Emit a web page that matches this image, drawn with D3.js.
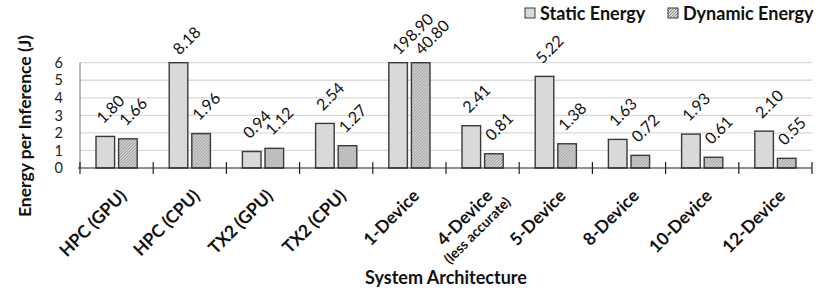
<!DOCTYPE html>
<html>
<head>
<meta charset="utf-8">
<script src="https://cdn.jsdelivr.net/npm/d3@7"></script>
<style>
  body { margin: 0; background: #fff; }
  svg { font-family: Lato, "Open Sans", sans-serif; }
</style>
</head>
<body>
<svg width="830" height="292"></svg>
<script>
var categories = ["HPC (GPU)", "HPC (CPU)", "TX2 (GPU)", "TX2 (CPU)", "1-Device",
                  "4-Device|(less accurate)", "5-Device", "8-Device", "10-Device", "12-Device"];
var staticEnergy  = [1.80, 8.18, 0.94, 2.54, 198.90, 2.41, 5.22, 1.63, 1.93, 2.10];
var dynamicEnergy = [1.66, 1.96, 1.12, 1.27, 40.80, 0.81, 1.38, 0.72, 0.61, 0.55];
var seriesNames = ["Static Energy", "Dynamic Energy"];
var yTicks = [0, 1, 2, 3, 4, 5, 6];

var svg = d3.select("svg"),
    margin = {top: 62.7, right: 18, bottom: 124, left: 80},
    width = +svg.attr("width") - margin.left - margin.right,
    height = +svg.attr("height") - margin.top - margin.bottom,
    g = svg.append("g").attr("transform", "translate(" + margin.left + "," + margin.top + ")");

// hatch for dynamic bars
var defs = svg.append("defs");
var pat = defs.append("pattern")
    .attr("id", "hatch")
    .attr("patternUnits", "userSpaceOnUse")
    .attr("width", 3).attr("height", 3);
pat.append("rect").attr("width", 3).attr("height", 3).attr("fill", "#d6d6d6");
pat.append("path").attr("d", "M-1,1 l2,-2 M0,3 l3,-3 M2,4 l2,-2")
    .attr("stroke", "#868686").attr("stroke-width", 0.9);

var y = d3.scaleLinear().domain([0, 6]).range([height, 0]).clamp(true);

var x0 = d3.scaleBand().domain(categories).range([0, width]);
var x1 = d3.scaleBand().domain(seriesNames)
    .range([0, x0.bandwidth()])
    .paddingInner(0.177).paddingOuter(0.708);

var fills = {"Static Energy": "#d9d9d9", "Dynamic Energy": "url(#hatch)"};

// gridlines
g.selectAll(".grid").data(yTicks.slice(1)).enter().append("line")
    .attr("x1", 0).attr("x2", width)
    .attr("y1", d => y(d)).attr("y2", d => y(d))
    .attr("stroke", "#d9d9d9").attr("stroke-width", 1.3);

// y axis line + labels
g.append("line").attr("x1", 0).attr("x2", 0).attr("y1", 0).attr("y2", height)
    .attr("stroke", "#8c8c8c").attr("stroke-width", 1.2);
g.selectAll(".ytl").data(yTicks).enter().append("text")
    .attr("x", -17).attr("y", d => y(d)).attr("dy", "0.36em")
    .attr("text-anchor", "end").attr("font-size", 14.5).attr("fill", "#222")
    .text(d => d);

var rows = categories.map((c, i) => ({cat: c, vals: [
    {key: seriesNames[0], value: staticEnergy[i]},
    {key: seriesNames[1], value: dynamicEnergy[i]}]}));

var grp = g.selectAll(".cat").data(rows).enter().append("g")
    .attr("transform", d => "translate(" + x0(d.cat) + ",0)");

grp.selectAll("rect").data(d => d.vals).enter().append("rect")
    .attr("x", d => x1(d.key))
    .attr("y", d => y(d.value))
    .attr("width", x1.bandwidth())
    .attr("height", d => height - y(d.value))
    .attr("fill", d => fills[d.key])
    .attr("stroke", "#3a3a3a").attr("stroke-width", 1.4);

// value labels, rotated
grp.selectAll(".val").data(d => d.vals).enter().append("text")
    .attr("font-size", 16).attr("fill", "#111")
    .attr("transform", function(d) {
      var cx = x1(d.key) + x1.bandwidth() / 2;
      var clipped = d.value > 6;
      var px = clipped ? cx + 1 : cx - 2;
      var py = clipped ? y(d.value) - 7 : y(d.value) - 12;
      return "translate(" + px + "," + py + ") rotate(-45)";
    })
    .text(d => d.value.toFixed(2));

// x axis with crossing ticks
g.append("line").attr("x1", -2).attr("x2", width).attr("y1", height).attr("y2", height)
    .attr("stroke", "#222").attr("stroke-width", 1.2);
var bounds = categories.map(c => x0(c)).concat([width]);
g.selectAll(".xt").data(bounds).enter().append("line")
    .attr("x1", d => d).attr("x2", d => d)
    .attr("y1", height - 6).attr("y2", height + 6)
    .attr("stroke", "#222").attr("stroke-width", 1.2);

// category labels
var cl = g.selectAll(".cl").data(categories).enter().append("text")
    .attr("font-weight", "bold").attr("font-size", 17.5).attr("fill", "#111")
    .attr("transform", d => "translate(" + (x0(d) + x0.bandwidth() / 2 + 11) + "," + (height + 29) + ") rotate(-45)");
cl.each(function(d) {
  var t = d3.select(this), parts = d.split("|");
  var first = t.append("tspan").attr("x", 0).attr("y", 0).attr("text-anchor", "end").text(parts[0]);
  if (parts.length > 1) {
    var L = first.node().getComputedTextLength();
    t.append("tspan").attr("x", -L / 2).attr("y", 17).attr("text-anchor", "middle")
      .attr("font-size", 14).text(parts[1]);
  }
});

// axis titles
svg.append("text")
    .attr("x", margin.left + width / 2).attr("y", 284)
    .attr("text-anchor", "middle").attr("font-weight", "bold").attr("font-size", 18)
    .attr("fill", "#111").text("System Architecture");
svg.append("text")
    .attr("transform", "translate(31,126) rotate(-90)")
    .attr("text-anchor", "middle").attr("font-weight", "bold").attr("font-size", 17.5)
    .attr("fill", "#111").text("Energy per Inference (J)");

// legend
var legend = svg.append("g").selectAll("g").data(seriesNames).enter().append("g")
    .attr("transform", (d, i) => "translate(" + (i === 0 ? 525 : 668) + ",8)");
legend.append("rect").attr("width", 10).attr("height", 10)
    .attr("fill", d => fills[d]).attr("stroke", "#3a3a3a").attr("stroke-width", 1);
legend.append("text").attr("x", 15).attr("y", 12).attr("font-weight", "bold")
    .attr("font-size", 18).attr("fill", "#111").text(d => d);
</script>
</body>
</html>
